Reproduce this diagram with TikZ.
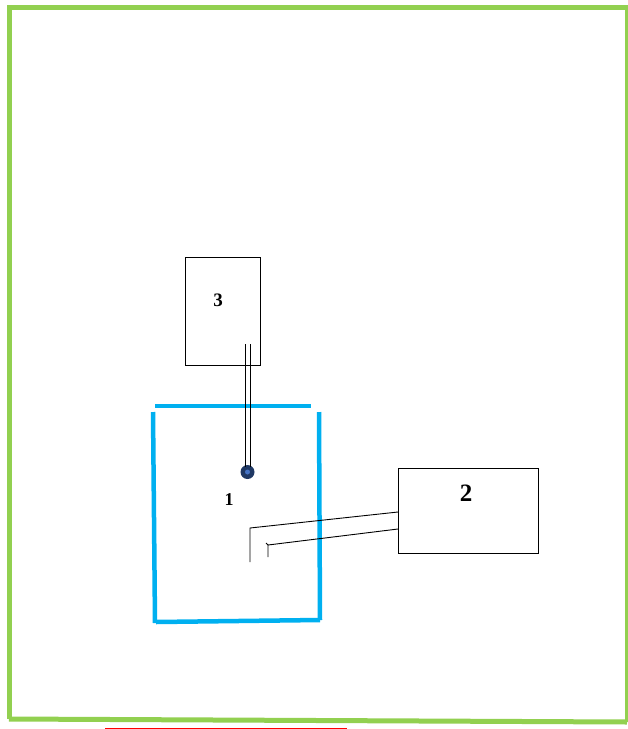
\documentclass[tikz,border=0pt]{standalone}
\usepackage{fontspec}
\setmainfont{Liberation Serif}
\definecolor{framegreen}{HTML}{92D050}
\definecolor{tankblue}{HTML}{00B0F0}
\definecolor{dotblue}{HTML}{1F3864}
\definecolor{dotcenter}{HTML}{4472C4}
\begin{document}
\begin{tikzpicture}[x=1pt,y=-1pt,
  frame/.style={draw=framegreen,line width=5pt},
  tank/.style={draw=tankblue,line width=4.5pt},
  devbox/.style={draw=black,line width=1pt,rectangle,inner sep=0pt,anchor=north west},
  wire/.style={draw=black,line width=0.9pt},
  lbl/.style={font=\bfseries,inner sep=0pt}]
\useasboundingbox (0,0) rectangle (628,729);
% green frame
\draw[frame] (9,719) -- (9,7) -- (627,7) -- (627,722);
\draw[frame] (9,719) -- (627,722);
% red line
\draw[red,line width=1pt] (105,728) -- (347,728);
% tank (blue, open corners)
\draw[tank] (155,406) -- (311,406);
\draw[tank] (153,412) -- (155,623);
\draw[tank] (319,412) -- (320,620);
\draw[tank] (156,622) -- (320,620);
% box 3
\node[devbox,minimum width=75pt,minimum height=108pt] (b3) at (185,257) {};
\node[lbl,font=\bfseries\fontsize{19pt}{19pt}\selectfont] (l3) at (218,300) {3};
% box 2
\node[devbox,minimum width=140pt,minimum height=85pt] (b2) at (398,468) {};
\node[lbl,font=\bfseries\fontsize{25pt}{25pt}\selectfont] (l2) at (466,493) {2};
% label 1
\node[lbl,font=\bfseries\fontsize{18pt}{18pt}\selectfont] (l1) at (229,500) {1};
% dot (sensor)
\node[circle,fill=dotblue,minimum size=14pt,inner sep=0pt] (dot) at (247.5,472) {};
\node[circle,fill=dotcenter,minimum size=5pt,inner sep=0pt] at (dot.center) {};
% wires from box 3 to dot
\coordinate (w3a) at (245,344);
\coordinate (w3b) at (250,344);
\draw[wire] (w3a) -- (w3a |- dot.north west);
\draw[wire] (w3b) -- (w3b |- dot.north east);
% wires from box 2
\coordinate (eA) at (250,562);
\coordinate (kA) at (250,528);
\coordinate (eB) at (268,557);
\coordinate (kB) at (268,545);
\draw[wire] (eA) -- (kA) -- (b2.west |- 0,512);
\draw[wire] (eB) -- (kB) -- (b2.west |- 0,529);
\draw[wire] (266,543) -- (kB);
\end{tikzpicture}
\end{document}
